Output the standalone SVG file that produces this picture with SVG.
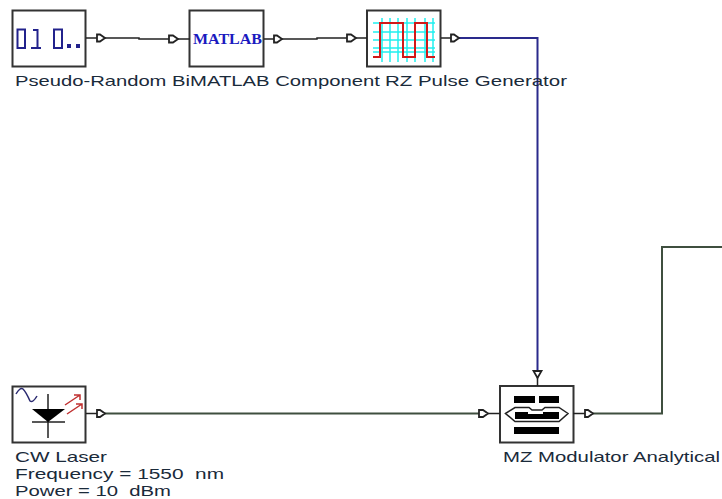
<svg xmlns="http://www.w3.org/2000/svg" width="722" height="499" viewBox="0 0 722 499">
<style>
.box{fill:#fff;stroke:#333;stroke-width:2}
.lbl{font-family:"Liberation Sans",Arial,sans-serif;font-size:14.5px;fill:#1a2a3a;white-space:pre}
.port{fill:#fff;stroke:#222;stroke-width:1.8}
.stub{stroke:#222;stroke-width:1.5;fill:none}
.wire{fill:none;stroke-width:1.5}
.wd{stroke:#222}
.wb{stroke:#2a2a8c;stroke-width:2}
.wg{stroke:#3f4f3f;stroke-width:2}
</style>
<rect width="722" height="499" fill="#fff"/>
<g id="connectors">
<path class="wire wd" d="M100 38H139V39H178"/>
<path class="wire wd" d="M282 39H317V38H355"/>
<path class="wire wb" d="M458 38H537.500V373"/>
<path class="wire wg" d="M104 413.500H482"/>
<path class="wire wg" d="M592 413.500H662V247H722"/>
</g>
<g id="prbs">
<rect class="box" x="12.500" y="10.500" width="73" height="56"/>
<path class="stub" d="M86 38H97"/>
<path class="port" d="M97 34.500V41.500H100L105 38L100 34.500Z"/>
<path d="M17.500 29.500h7.500v18.500h-7.500zM54 29.500h8v18.500h-8zM33 30h4.500v18M31 48h10" fill="none" stroke="#22228c" stroke-width="2"/>
<rect x="67" y="44" width="4" height="4" fill="#22228c"/><rect x="76" y="44" width="4" height="4" fill="#22228c"/>
<text class="lbl" x="15" y="86" textLength="175" lengthAdjust="spacingAndGlyphs">Pseudo-Random Bi</text>
</g>
<g id="matlab">
<rect class="box" x="189.500" y="10.500" width="74" height="56"/>
<path class="stub" d="M178 39H190M264 39H274"/>
<path class="port" d="M169 35.500V42.500H173L178 39L173 35.500Z"/>
<path class="port" d="M274 35.500V42.500H277L282 39L277 35.500Z"/>
<text x="193" y="44" font-family="Liberation Serif,serif" font-size="14" font-weight="bold" fill="#1a1ac0" textLength="69" lengthAdjust="spacingAndGlyphs">MATLAB</text>
<text class="lbl" x="190" y="86" textLength="190" lengthAdjust="spacingAndGlyphs">MATLAB Component</text>
</g>
<g id="rz">
<rect class="box" x="367" y="10.500" width="73.500" height="56"/>
<path class="stub" d="M355 38H367M441 38H451"/>
<path class="port" d="M347 34.500V41.500H351L356 38L351 34.500Z"/>
<path class="port" d="M451 34.500V41.500H454L459 38L454 34.500Z"/>
<path d="M373 23H435M373 32H435M373 40H435M373 48H435M373 52H435M382 18V62M390 18V62M398 18V62M407 18V62M415 18V62M425 18V62M433 18V62" stroke="#20f0f0" stroke-width="1.500" fill="none"/>
<path d="M373 57H380V23H403V57H415V23H427V57H435" stroke="#d01818" stroke-width="2" fill="none"/>
<text class="lbl" x="385" y="86" textLength="182" lengthAdjust="spacingAndGlyphs">RZ Pulse Generator</text>
</g>
<g id="laser">
<rect class="box" x="12.500" y="386.500" width="73" height="56"/>
<path class="stub" d="M86 413.500H97"/>
<path class="port" d="M97 410V417H100L105 413.500L100 410Z"/>
<path d="M16 394Q20 387 23 389Q26 392 30 401Q33 403 37 396" stroke="#2a2a70" stroke-width="1.500" fill="none"/>
<path d="M48 394V438M32 422H65" stroke="#222" stroke-width="1.500" fill="none"/>
<path d="M32 409H65L48 422Z" fill="#000"/>
<path d="M65 405L80 395M67 414L82 404M74 395H80V400M76 404H82V409" stroke="#c03030" stroke-width="1.500" fill="none"/>
<text class="lbl" x="15" y="462" textLength="92" lengthAdjust="spacingAndGlyphs">CW Laser</text>
<text class="lbl" x="15" y="479" textLength="209" lengthAdjust="spacingAndGlyphs">Frequency = 1550  nm</text>
<text class="lbl" x="15" y="496" textLength="156" lengthAdjust="spacingAndGlyphs">Power = 10  dBm</text>
</g>
<g id="mz">
<rect class="box" x="500" y="386" width="73.500" height="56.500"/>
<path class="stub" d="M537.500 373V386M573 413.500H585M488 413.500H500"/>
<path class="port" d="M479 410V417H483L488 413.500L483 410Z"/>
<path class="port" d="M585 410V417H588L593 413.500L588 410Z"/>
<path class="port" d="M533.500 371H541.500L537.500 378Z"/>
<path d="M514 396h21v7h-21zM539 396h20v7h-20zM514 427h45v7h-45z" fill="#000"/>
<path d="M515 412h13v2h15v-2h16v7h-44z" fill="#000"/>
<path d="M505.500 413.500L515 407.500H529L532 410H542L545 407.500H559L568 413.500L559 421.500H515Z" fill="none" stroke="#222" stroke-width="1.500"/>
<text class="lbl" x="503" y="462" textLength="217" lengthAdjust="spacingAndGlyphs">MZ Modulator Analytical</text>
</g>
</svg>
